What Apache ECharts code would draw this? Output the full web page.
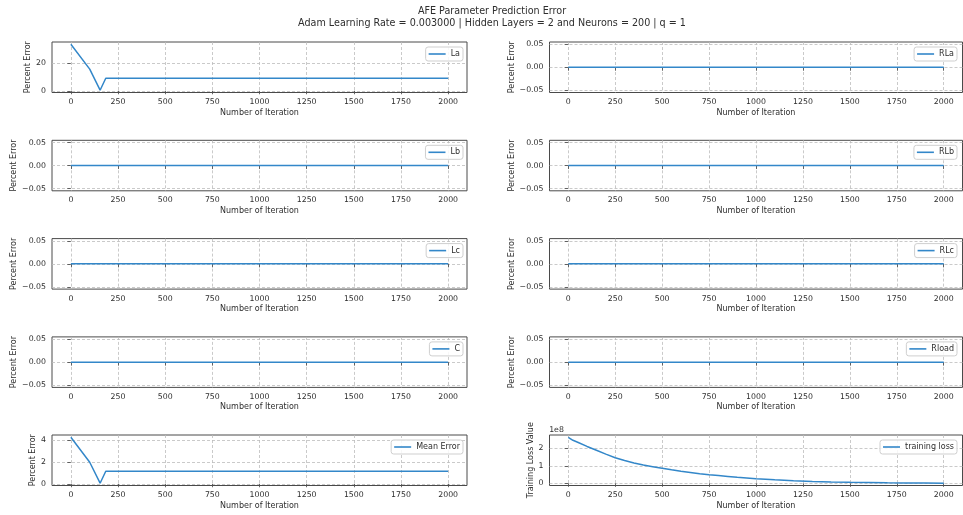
<!DOCTYPE html>
<html>
<head>
<meta charset="utf-8">
<title>AFE Parameter Prediction Error</title>
<script src="https://cdn.jsdelivr.net/npm/echarts@6/dist/echarts.min.js"></script>
<style>
  html, body { margin: 0; padding: 0; background: #fff; }
  #chart { width: 963px; height: 515px; }
</style>
</head>
<body>
<div id="chart"></div>
<script>
// ---- data ----
const errIterations = [0, 100, 155, 185, 2000];
const errLa   = [34.0, 15.8, 0.4, 9.15, 9.15];
const errRLa  = [0, 0, 0, 0, 0];
const errLb   = [0, 0, 0, 0, 0];
const errRLb  = [0, 0, 0, 0, 0];
const errLc   = [0, 0, 0, 0, 0];
const errRLc  = [0, 0, 0, 0, 0];
const errC    = [0, 0, 0, 0, 0];
const errRload = [0, 0, 0, 0, 0];
const errMean = [4.25, 1.97, 0.05, 1.14, 1.14];

const lossIterations = [0, 25, 50, 100, 150, 200, 250, 300, 350, 400, 450, 500, 550, 600, 650, 700,
  750, 800, 850, 900, 950, 1000, 1100, 1200, 1300, 1400, 1500, 1600, 1700, 1800, 1900, 2000];
const lossValues = [2.62e8, 2.45e8, 2.34e8, 2.10e8, 1.88e8, 1.66e8, 1.46e8, 1.30e8, 1.16e8, 1.04e8,
  0.95e8, 0.86e8, 0.77e8, 0.69e8, 0.62e8, 0.55e8, 0.49e8, 0.44e8, 0.39e8, 0.34e8, 0.30e8, 0.26e8,
  0.20e8, 0.15e8, 0.11e8, 0.08e8, 0.06e8, 0.045e8, 0.032e8, 0.022e8, 0.014e8, 0.008e8];

const xTicks = [0, 250, 500, 750, 1000, 1250, 1500, 1750, 2000];
const yTicksLa = [0, 20];
const yTicksZero = [-0.05, 0, 0.05];
const yTicksMean = [0, 2, 4];
const yTicksLoss = [0, 1e8, 2e8];

const titleText = 'AFE Parameter Prediction Error';
const subtitleText = 'Adam Learning Rate = 0.003000 | Hidden Layers = 2 and Neurons = 200 | q = 1';

// ---- panels ----
const panels = [
  { name: 'La',    x: errIterations, y: errLa,    ticks: yTicksLa,   yName: 'Percent Error' },
  { name: 'RLa',   x: errIterations, y: errRLa,   ticks: yTicksZero, yName: 'Percent Error' },
  { name: 'Lb',    x: errIterations, y: errLb,    ticks: yTicksZero, yName: 'Percent Error' },
  { name: 'RLb',   x: errIterations, y: errRLb,   ticks: yTicksZero, yName: 'Percent Error' },
  { name: 'Lc',    x: errIterations, y: errLc,    ticks: yTicksZero, yName: 'Percent Error' },
  { name: 'RLc',   x: errIterations, y: errRLc,   ticks: yTicksZero, yName: 'Percent Error' },
  { name: 'C',     x: errIterations, y: errC,     ticks: yTicksZero, yName: 'Percent Error' },
  { name: 'Rload', x: errIterations, y: errRload, ticks: yTicksZero, yName: 'Percent Error' },
  { name: 'Mean Error',    x: errIterations,  y: errMean,    ticks: yTicksMean, yName: 'Percent Error' },
  { name: 'training loss', x: lossIterations, y: lossValues, ticks: yTicksLoss, yName: 'Training Loss Value', scale: 1e8 }
];

// ---- layout ----
const FONT = 'DejaVu Sans, Liberation Sans, sans-serif';
const TEXT = '#2e2e2e';
const LINE = '#3387c9';
const colLeft = [52, 549.5];
const colWidth = [415, 413];
const legendRight = [500, 6];
const rowTop = [42, 140.3, 238.6, 336.9, 435];
const rowHeight = 50.5;

function yRange(vals) {
  let lo = Math.min(...vals), hi = Math.max(...vals);
  if (hi === lo) { lo -= 0.05; hi += 0.05; }
  const pad = (hi - lo) * 0.05;
  return [lo - pad, hi + pad];
}

function fmtTick(v, p) {
  if (p.scale) return String(Math.round(v / p.scale));
  if (p.ticks === yTicksZero) {
    const s = Math.abs(v).toFixed(2);
    return v < 0 ? '\u2212' + s : s;
  }
  return String(v);
}

// distance from the box to the y-axis title, depends on tick label width
function nameGapFor(p) {
  if (p.scale) return 15;
  if (p.ticks === yTicksZero) return 33;
  if (p.ticks === yTicksLa) return 19;
  return 15;
}

const grids = [], xAxes = [], yAxes = [], series = [], legends = [];

panels.forEach((p, i) => {
  const col = i % 2, row = Math.floor(i / 2);
  grids.push({
    left: colLeft[col], top: rowTop[row], width: colWidth[col], height: rowHeight,
    show: true, borderColor: '#4a4a4a', borderWidth: 1, backgroundColor: 'transparent',
    containLabel: false
  });
  xAxes.push({
    type: 'value', gridIndex: i, min: -100, max: 2100,
    name: 'Number of Iteration', nameLocation: 'middle', nameGap: 16,
    nameTextStyle: { fontFamily: FONT, fontSize: 8, color: TEXT },
    axisLine: { show: false },
    axisTick: { show: true, length: 3.5, customValues: xTicks, lineStyle: { color: '#444', width: 0.8 } },
    axisLabel: { customValues: xTicks, fontFamily: FONT, fontSize: 7.8, color: TEXT, margin: 5.5,
      formatter: v => String(v) },
    splitLine: { show: true, lineStyle: { color: '#bdbdbd', width: 0.8, type: [3, 2] } }
  });
  const [lo, hi] = yRange(p.y);
  yAxes.push({
    type: 'value', gridIndex: i, min: lo, max: hi,
    name: p.yName, nameLocation: 'middle', nameGap: nameGapFor(p),
    nameTextStyle: { fontFamily: FONT, fontSize: 8, color: TEXT },
    axisLine: { show: false },
    axisTick: { show: true, length: 3.5, customValues: p.ticks, lineStyle: { color: '#444', width: 0.8 } },
    axisLabel: { customValues: p.ticks, fontFamily: FONT, fontSize: 7.8, color: TEXT, margin: 6,
      formatter: v => fmtTick(v, p) },
    splitLine: { show: true, lineStyle: { color: '#bdbdbd', width: 0.8, type: [3, 2] } }
  });
  series.push({
    type: 'line', name: p.name, xAxisIndex: i, yAxisIndex: i,
    data: p.x.map((v, k) => [v, p.y[k]]),
    symbol: 'none', animation: false,
    lineStyle: { color: LINE, width: 1.5 }, itemStyle: { color: LINE }
  });
  legends.push({
    data: [p.name], right: legendRight[col], top: rowTop[row] + 5,
    icon: 'rect', itemWidth: 17, itemHeight: 1.6,
    padding: [2, 3, 2, 3], borderColor: '#cfcfcf', borderWidth: 1, borderRadius: 2.5,
    backgroundColor: 'rgba(255,255,255,0.85)',
    textStyle: { fontFamily: FONT, fontSize: 8, color: TEXT, lineHeight: 10 },
    selectedMode: false
  });
});

const chart = echarts.init(document.getElementById('chart'), null, { renderer: 'canvas' });
chart.setOption({
  animation: false,
  backgroundColor: '#fff',
  grid: grids,
  xAxis: xAxes,
  yAxis: yAxes,
  series: series,
  legend: legends,
  graphic: [
    { type: 'text', x: 492, y: 11, style: { text: titleText, font: '9.6px ' + FONT, fill: TEXT, align: 'center', verticalAlign: 'middle' } },
    { type: 'text', x: 492, y: 23.5, style: { text: subtitleText, font: '9.6px ' + FONT, fill: TEXT, align: 'center', verticalAlign: 'middle' } },
    { type: 'text', x: 556.5, y: 429.5, style: { text: '1e8', font: '7.8px ' + FONT, fill: TEXT, align: 'center', verticalAlign: 'middle' } }
  ]
});
</script>
</body>
</html>
